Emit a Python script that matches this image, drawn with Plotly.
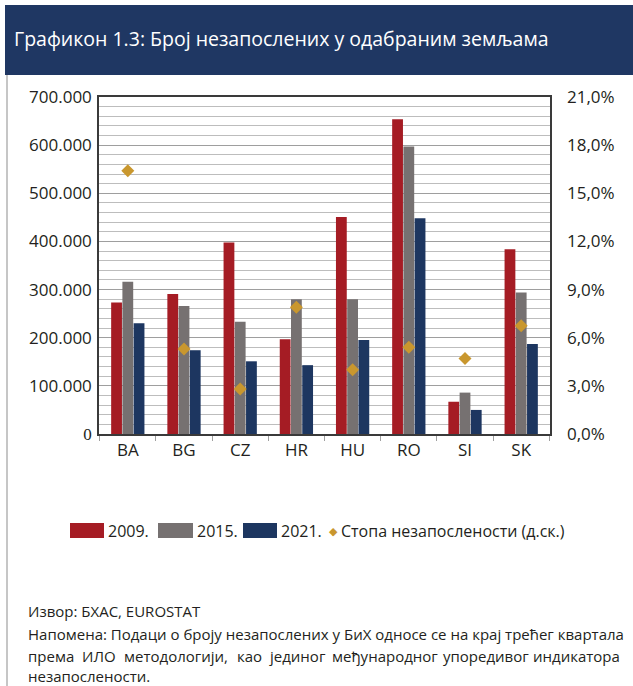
import plotly.graph_objects as go

# ---------------- data ----------------
countries = ["BA", "BG", "CZ", "HR", "HU", "RO", "SI", "SK"]
unemp_2009 = [273000, 291000, 398000, 197000, 451000, 654000, 67000, 384000]
unemp_2015 = [316000, 266000, 233000, 280000, 280000, 597000, 86000, 294000]
unemp_2021 = [230000, 174000, 151000, 143000, 195000, 448000, 50000, 187000]
rate_pct = [16.4, 5.3, 2.8, 7.9, 4.0, 5.4, 4.7, 6.75]

left_tickvals = [0, 100000, 200000, 300000, 400000, 500000, 600000, 700000]
left_ticktext = ['<span style="font-family:Liberation Serif">0</span>', "100.000", "200.000",
                 "300.000", "400.000", "500.000", "600.000", "700.000"]
right_tickvals = [0, 3, 6, 9, 12, 15, 18, 21]
right_ticktext = ["0,0%", "3,0%", "6,0%", "9,0%", "12,0%", "15,0%", "18,0%", "21,0%"]

series_names = ["2009.", "2015.", "2021."]
rate_name = "Стопа незапослености (д.ск.)"
title_text = "Графикон 1.3: Број незапослених у одабраним земљама"
source_text = "Извор: БХАС, EUROSTAT"
note_line1 = "Напомена: Подаци о броју незапослених у БиХ односе се на крај трећег квартала"
note_line2_words = ["према", "ИЛО", "методологији,", "као", "јединог", "међународног",
                    "упоредивог", "индикатора"]
note_line3 = "незапослености."

# ---------------- style ----------------
W, H = 633, 686
PL, PR, PT, PB = 99, 550, 97, 434
C_RED, C_GRAY, C_NAVY, C_GOLD = "#A51C24", "#767171", "#1D3660", "#C9972E"
C_BANNER = "#1F3763"
FONT = "Open Sans"
TXT = "#231F20"


def px(x):
    return (x - PL) / (PR - PL)


def py(y):
    return (PB - y) / (PB - PT)


fig = go.Figure()
for name, vals, col in zip(series_names, [unemp_2009, unemp_2015, unemp_2021],
                           [C_RED, C_GRAY, C_NAVY]):
    fig.add_trace(go.Bar(x=countries, y=vals, name=name, marker=dict(color=col, line=dict(width=0)),
                         showlegend=False))
fig.add_trace(go.Scatter(x=countries, y=rate_pct, name=rate_name, yaxis="y2", mode="markers",
                         marker=dict(symbol="diamond", size=10, color=C_GOLD), showlegend=False))

shapes = [
    dict(type="rect", xref="paper", yref="paper", x0=px(5), x1=px(640), y0=py(75), y1=py(5),
         fillcolor=C_BANNER, line=dict(width=0), layer="below"),
    dict(type="line", xref="paper", yref="paper", x0=px(7), x1=px(7), y0=py(75), y1=py(690),
         line=dict(color="#A0A0A0", width=1.2)),
]
annotations = [
    dict(text=title_text, xref="paper", yref="paper", x=px(12), y=py(38), xanchor="left",
         yanchor="middle", showarrow=False, font=dict(family=FONT, size=19.5, color="white")),
]

# legend (drawn manually)
legend_items = [(70, 104, C_RED, series_names[0]), (158, 193, C_GRAY, series_names[1]),
                (243, 277, C_NAVY, series_names[2])]
for x0, x1, col, lab in legend_items:
    shapes.append(dict(type="rect", xref="paper", yref="paper", x0=px(x0), x1=px(x1),
                       y0=py(538), y1=py(523), fillcolor=col, line=dict(width=0)))
    annotations.append(dict(text=lab, xref="paper", yref="paper", x=px(x1 + 2), y=py(531),
                            xanchor="left", yanchor="middle", showarrow=False,
                            font=dict(family=FONT, size=16, color=TXT)))
annotations.append(dict(text="◆", xref="paper", yref="paper", x=px(333), y=py(531),
                        xanchor="center", yanchor="middle", showarrow=False,
                        font=dict(family="DejaVu Sans", size=11, color=C_GOLD)))
annotations.append(dict(text=rate_name, xref="paper", yref="paper", x=px(339), y=py(531),
                        xanchor="left", yanchor="middle", showarrow=False,
                        font=dict(family=FONT, size=16, color=TXT)))

# footer
foot_font = dict(family=FONT, size=15, color=TXT)
annotations.append(dict(text=source_text, xref="paper", yref="paper", x=px(26), y=py(611),
                        xanchor="left", yanchor="middle", showarrow=False, font=foot_font))
annotations.append(dict(text=note_line1, xref="paper", yref="paper", x=px(26), y=py(634),
                        xanchor="left", yanchor="middle", showarrow=False, font=foot_font))
word_centers = [None, 99, 176, 249, 297, 385, 486, None]
for i, w in enumerate(note_line2_words):
    if i == 0:
        xa, xp = "left", 26
    elif i == len(note_line2_words) - 1:
        xa, xp = "right", 622
    else:
        xa, xp = "center", word_centers[i]
    annotations.append(dict(text=w, xref="paper", yref="paper", x=px(xp), y=py(656),
                            xanchor=xa, yanchor="middle", showarrow=False, font=foot_font))
annotations.append(dict(text=note_line3, xref="paper", yref="paper", x=px(26), y=py(676),
                        xanchor="left", yanchor="middle", showarrow=False, font=foot_font))

fig.update_layout(
    width=W, height=H,
    margin=dict(l=PL, r=W - PR, t=PT, b=H - PB, pad=0),
    paper_bgcolor="white", plot_bgcolor="white",
    barmode="group", bargap=0.4, bargroupgap=0.04,
    font=dict(family=FONT, color=TXT),
    showlegend=False,
    shapes=shapes, annotations=annotations,
    xaxis=dict(showline=True, linecolor="#3A3A3A", linewidth=1.5, mirror=True,
               ticks="outside", tickson="boundaries", ticklen=5, tickcolor="#A0A0A0",
               tickfont=dict(family=FONT, size=17, color=TXT), showgrid=False),
    yaxis=dict(range=[0, 700000], tickmode="array", tickvals=left_tickvals,
               ticktext=left_ticktext, showline=True, linecolor="#3A3A3A", linewidth=1.5,
               mirror=True, ticks="", ticklabelstandoff=2,
               tickfont=dict(family=FONT, size=17, color=TXT),
               showgrid=True, gridcolor="#9E9E9E", gridwidth=1.2, zeroline=False,
               minor=dict(tickmode="linear", tick0=0, dtick=20000, showgrid=True,
                          gridcolor="#BDBDBD", gridwidth=1.2)),
    yaxis2=dict(range=[0, 21], overlaying="y", side="right", tickmode="array",
                tickvals=right_tickvals, ticktext=right_ticktext, showgrid=False,
                zeroline=False, showline=False, ticks="", ticklabelstandoff=16,
                tickfont=dict(family=FONT, size=17, color=TXT)),
)

fig.write_html("out.html", config={"displayModeBar": False},
               post_script="document.body.style.margin='0';document.body.style.padding='0';")
